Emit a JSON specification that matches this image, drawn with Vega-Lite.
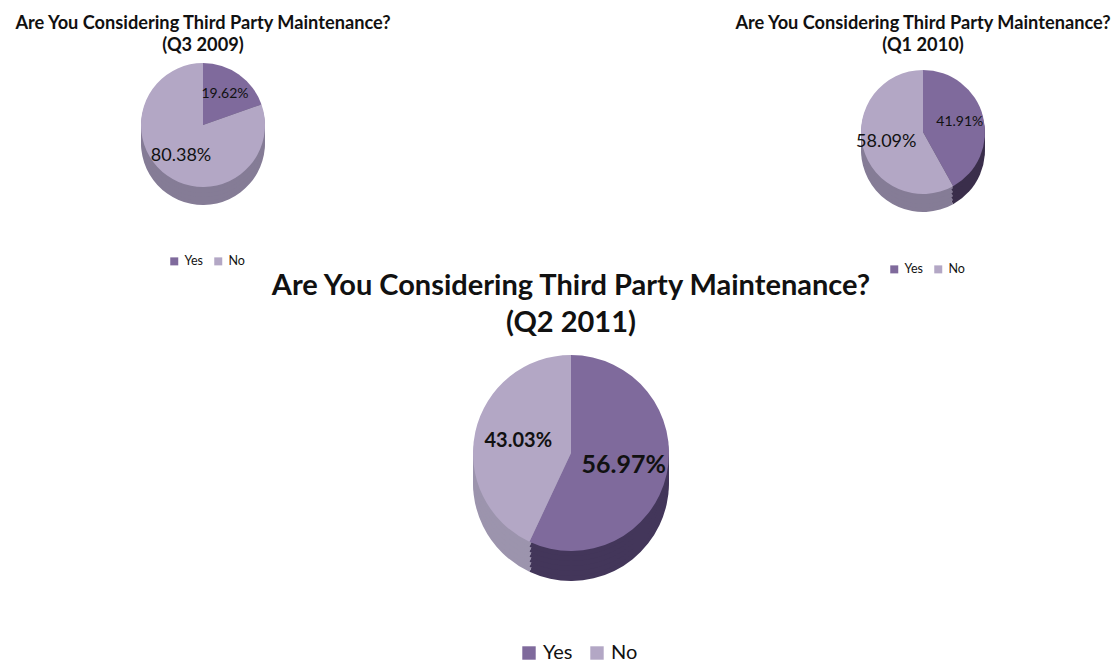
{
  "$schema": "https://vega.github.io/schema/vega-lite/v6.json",
  "background": "white",
  "padding": {"left": 13, "top": 13, "right": 0, "bottom": 0},
  "config": {
    "view": {"stroke": null},
    "font": "Lato",
    "title": {"font": "Lato", "fontWeight": "bold", "color": "#111111", "fontSize": 18.2, "lineHeight": 22, "offset": 6},
    "legend": {"orient": "none", "direction": "horizontal", "title": null, "symbolType": "square", "labelFont": "Lato", "labelColor": "#111111", "symbolStrokeWidth": 0, "labelFontSize": 12.5, "symbolSize": 64, "columnPadding": 9}
  },
  "resolve": {"scale": {"color": "independent"}, "legend": {"color": "independent"}},
  "spacing": -4,
  "center": true,
  "vconcat": [
    {
      "spacing": 340,
      "resolve": {"scale": {"color": "independent"}, "legend": {"color": "independent"}},
      "hconcat": [
        {
          "title": {"text": ["Are You Considering Third Party Maintenance?", "(Q3 2009)"]},
          "width": 380,
          "height": 128,
          "data": {"values": [{"answer": "Yes", "share": 0.1962}, {"answer": "No", "share": 0.8038}]},
          "encoding": {
            "theta": {"field": "share", "type": "quantitative", "stack": true},
            "order": {"field": "answer", "sort": "descending"}
          },
          "layer": [
            {"mark": {"type": "arc", "outerRadius": 62, "yOffset": 18}, "encoding": {"color": {"condition": {"test": "datum.answer === 'Yes'", "value": "#43375a"}, "value": "#857c96"}}},
            {"mark": {"type": "arc", "outerRadius": 62, "yOffset": 14}, "encoding": {"color": {"condition": {"test": "datum.answer === 'Yes'", "value": "#43375a"}, "value": "#857c96"}}},
            {"mark": {"type": "arc", "outerRadius": 62, "yOffset": 10}, "encoding": {"color": {"condition": {"test": "datum.answer === 'Yes'", "value": "#43375a"}, "value": "#857c96"}}},
            {"mark": {"type": "arc", "outerRadius": 62, "yOffset": 6}, "encoding": {"color": {"condition": {"test": "datum.answer === 'Yes'", "value": "#43375a"}, "value": "#857c96"}}},
            {"mark": {"type": "arc", "outerRadius": 62, "yOffset": 2}, "encoding": {"color": {"condition": {"test": "datum.answer === 'Yes'", "value": "#43375a"}, "value": "#857c96"}}},
            {"mark": {"type": "arc", "outerRadius": 62}, "encoding": {"color": {"field": "answer", "type": "nominal", "scale": {"domain": ["Yes", "No"], "range": ["#7f6a9c", "#b3a7c5"]}, "legend": {"legendX": 155, "legendY": 194}}}},
            {"mark": {"type": "text", "radius": 38, "color": "#111111"}, "encoding": {"text": {"field": "share", "type": "quantitative", "format": ".2%"}, "size": {"condition": {"test": "datum.answer === 'Yes'", "value": 14}, "value": 18}}}
          ]
        },
        {
          "title": {"text": ["Are You Considering Third Party Maintenance?", "(Q1 2010)"]},
          "width": 380,
          "height": 142,
          "data": {"values": [{"answer": "Yes", "share": 0.4191}, {"answer": "No", "share": 0.5809}]},
          "encoding": {
            "theta": {"field": "share", "type": "quantitative", "stack": true},
            "order": {"field": "answer", "sort": "descending"}
          },
          "layer": [
            {"mark": {"type": "arc", "outerRadius": 62, "yOffset": 18}, "encoding": {"color": {"condition": {"test": "datum.answer === 'Yes'", "value": "#3a2e4b"}, "value": "#857c96"}}},
            {"mark": {"type": "arc", "outerRadius": 62, "yOffset": 14}, "encoding": {"color": {"condition": {"test": "datum.answer === 'Yes'", "value": "#3a2e4b"}, "value": "#857c96"}}},
            {"mark": {"type": "arc", "outerRadius": 62, "yOffset": 10}, "encoding": {"color": {"condition": {"test": "datum.answer === 'Yes'", "value": "#3a2e4b"}, "value": "#857c96"}}},
            {"mark": {"type": "arc", "outerRadius": 62, "yOffset": 6}, "encoding": {"color": {"condition": {"test": "datum.answer === 'Yes'", "value": "#3a2e4b"}, "value": "#857c96"}}},
            {"mark": {"type": "arc", "outerRadius": 62, "yOffset": 2}, "encoding": {"color": {"condition": {"test": "datum.answer === 'Yes'", "value": "#3a2e4b"}, "value": "#857c96"}}},
            {"mark": {"type": "arc", "outerRadius": 62}, "encoding": {"color": {"field": "answer", "type": "nominal", "scale": {"domain": ["Yes", "No"], "range": ["#7f6a9c", "#b3a7c5"]}, "legend": {"legendX": 155, "legendY": 202}}}},
            {"mark": {"type": "text", "radius": 38, "color": "#111111"}, "encoding": {"text": {"field": "share", "type": "quantitative", "format": ".2%"}, "size": {"condition": {"test": "datum.answer === 'Yes'", "value": 14}, "value": 18}}}
          ]
        }
      ]
    },
    {
      "spacing": 0,
      "resolve": {"scale": {"color": "independent"}, "legend": {"color": "independent"}},
      "hconcat": [
        {
          "width": 16,
          "height": 10,
          "data": {"values": []},
          "mark": "point"
        },
        {
          "title": {"text": ["Are You Considering Third Party Maintenance?", "(Q2 2011)"], "fontSize": 29, "lineHeight": 37, "offset": 10},
          "width": 620,
          "height": 210,
          "data": {"values": [{"answer": "Yes", "share": 0.5697}, {"answer": "No", "share": 0.4303}]},
          "encoding": {
            "theta": {"field": "share", "type": "quantitative", "stack": true},
            "order": {"field": "answer", "sort": "descending"}
          },
          "layer": [
            {"mark": {"type": "arc", "outerRadius": 98, "yOffset": 30}, "encoding": {"color": {"condition": {"test": "datum.answer === 'Yes'", "value": "#43365a"}, "value": "#9c94ad"}}},
            {"mark": {"type": "arc", "outerRadius": 98, "yOffset": 25}, "encoding": {"color": {"condition": {"test": "datum.answer === 'Yes'", "value": "#43365a"}, "value": "#9c94ad"}}},
            {"mark": {"type": "arc", "outerRadius": 98, "yOffset": 20}, "encoding": {"color": {"condition": {"test": "datum.answer === 'Yes'", "value": "#43365a"}, "value": "#9c94ad"}}},
            {"mark": {"type": "arc", "outerRadius": 98, "yOffset": 15}, "encoding": {"color": {"condition": {"test": "datum.answer === 'Yes'", "value": "#43365a"}, "value": "#9c94ad"}}},
            {"mark": {"type": "arc", "outerRadius": 98, "yOffset": 10}, "encoding": {"color": {"condition": {"test": "datum.answer === 'Yes'", "value": "#43365a"}, "value": "#9c94ad"}}},
            {"mark": {"type": "arc", "outerRadius": 98, "yOffset": 5}, "encoding": {"color": {"condition": {"test": "datum.answer === 'Yes'", "value": "#43365a"}, "value": "#9c94ad"}}},
            {"mark": {"type": "arc", "outerRadius": 98}, "encoding": {"color": {"field": "answer", "type": "nominal", "scale": {"domain": ["Yes", "No"], "range": ["#7f6a9c", "#b3a7c5"]}, "legend": {"labelFontSize": 20, "symbolSize": 180, "columnPadding": 14, "legendX": 258, "legendY": 295}}}},
            {"mark": {"type": "text", "radius": 54, "color": "#111111", "fontWeight": "bold"}, "encoding": {"text": {"field": "share", "type": "quantitative", "format": ".2%"}, "size": {"condition": {"test": "datum.answer === 'Yes'", "value": 25}, "value": 20}}}
          ]
        }
      ]
    }
  ]
}
